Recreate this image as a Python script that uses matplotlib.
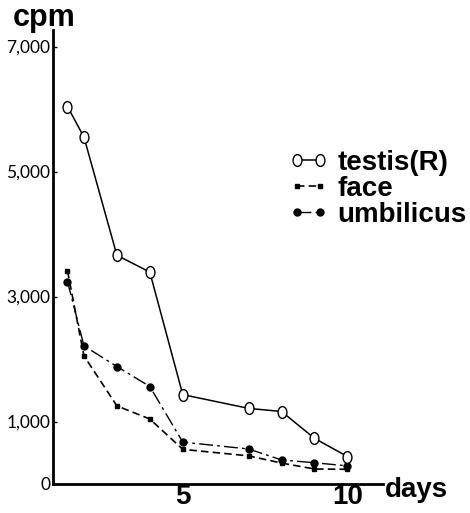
import matplotlib
matplotlib.use("Agg")
import matplotlib.pyplot as plt
from matplotlib.path import Path
from matplotlib.transforms import Affine2D
from matplotlib.font_manager import FontProperties

# ---- data -------------------------------------------------------------
days = [1.5, 2, 3, 4, 5, 7, 8, 9, 10]
testis = [6040, 5550, 3660, 3390, 1430, 1210, 1160, 730, 440]
face = [3410, 2050, 1250, 1040, 555, 450, 335, 240, 235]
umbilicus = [3240, 2210, 1880, 1560, 670, 560, 385, 340, 290]

series_labels = ["testis(R)", "face", "umbilicus"]
y_ticks = [0, 1000, 3000, 5000, 7000]
y_tick_labels = ["0", "1,000", "3,000", "5,000", "7,000"]
x_ticks = [5, 10]
x_tick_labels = ["5", "10"]

# ---- fonts ------------------------------------------------------------
bold = FontProperties(family=["Liberation Sans", "DejaVu Sans"], weight="bold")
tick_bold = FontProperties(family=["Liberation Sans", "DejaVu Sans"], weight="bold", size=20)
thin = FontProperties(family=["Lato", "DejaVu Sans"], weight="normal", size=12.5)

# upright ellipse marker for the open symbols
oval = Path.unit_circle().transformed(Affine2D().scale(0.75, 1.0))

fig = plt.figure(figsize=(4.70, 5.13), dpi=100)
W, H = 470, 513
ax = fig.add_axes([53 / W, 1 - 484 / H, (383 - 53) / W, (484 - 30) / H])

ax.plot(days, testis, color="black", lw=1.1, marker=oval, markersize=8.5,
        markerfacecolor="white", markeredgecolor="black", markeredgewidth=1.0,
        label=series_labels[0], zorder=3)
ax.plot(days, face, color="black", lw=1.2, linestyle=(0, (4.5, 2.5)),
        marker="s", markersize=3.3, markerfacecolor="black",
        label=series_labels[1], zorder=2)
ax.plot(days, umbilicus, color="black", lw=1.0, linestyle=(0, (10, 3, 2, 3)),
        marker="o", markersize=5, markerfacecolor="black",
        label=series_labels[2], zorder=2)

ax.set_xlim(1.06, 11.08)
ax.set_ylim(0, 7264)

for s in ("top", "right"):
    ax.spines[s].set_visible(False)
for s in ("left", "bottom"):
    ax.spines[s].set_linewidth(2.0)

ax.set_yticks(y_ticks)
ax.set_yticklabels(y_tick_labels, fontproperties=thin, color="black")
ax.set_xticks(x_ticks)
ax.set_xticklabels(x_tick_labels, fontproperties=tick_bold)
ax.tick_params(axis="y", direction="in", length=3, width=1, pad=2)
ax.tick_params(axis="x", length=0, pad=0)

fig.text(13 / W, 1 - 26 / H, "cpm", fontproperties=bold, fontsize=22,
         ha="left", va="baseline")
fig.text(385 / W, 1 - 497 / H, "days", fontproperties=bold, fontsize=20,
         ha="left", va="baseline")

leg_font = FontProperties(family=["Liberation Sans", "DejaVu Sans"], weight="bold", size=20)
ax.legend(loc="upper left", bbox_to_anchor=(289 / W, 1 - 150 / H),
          bbox_transform=fig.transFigure, frameon=False, numpoints=2,
          handlelength=1.4, handletextpad=0.35, labelspacing=0.0,
          borderpad=0, borderaxespad=0, prop=leg_font)

fig.savefig("out.png", dpi=100)
